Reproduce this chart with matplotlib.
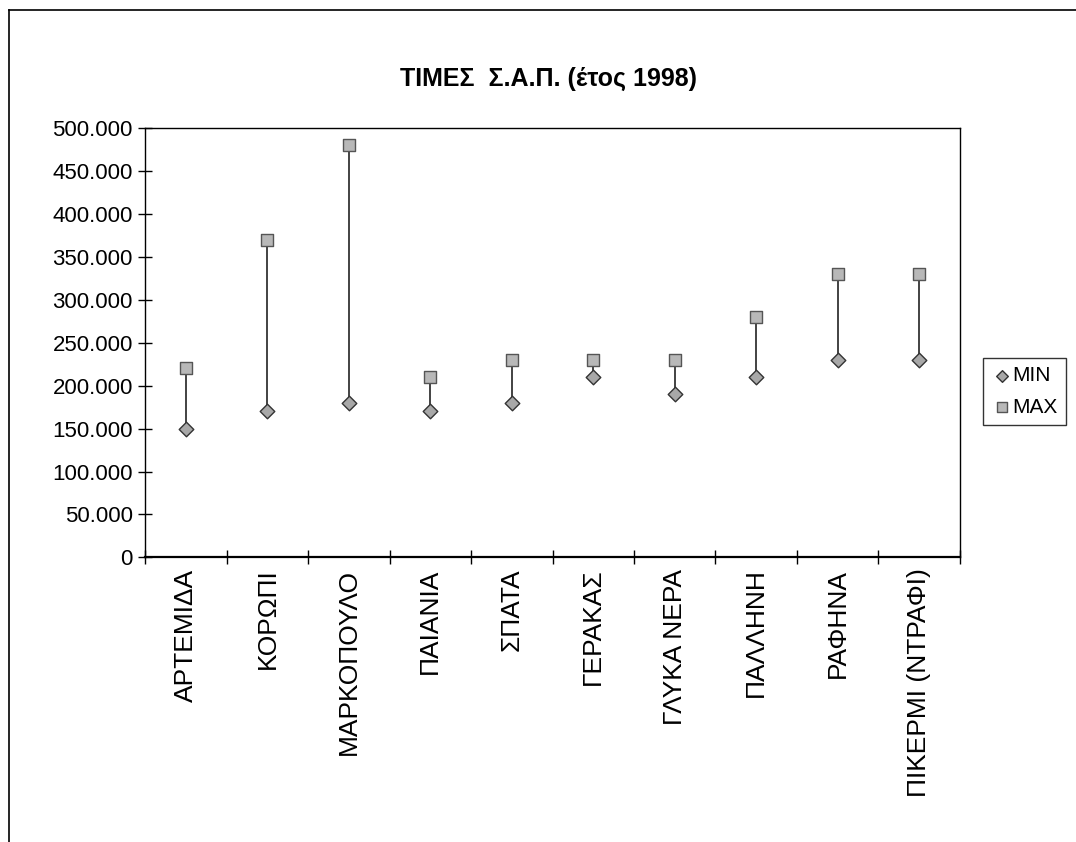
import matplotlib.pyplot as plt
from matplotlib.ticker import FuncFormatter, FixedLocator
from matplotlib.lines import Line2D

plt.rcParams['font.family'] = ['Liberation Sans', 'DejaVu Sans']

# data
places = ['ΑΡΤΕΜΙΔΑ', 'ΚΟΡΩΠΙ', 'ΜΑΡΚΟΠΟΥΛΟ', 'ΠΑΙΑΝΙΑ', 'ΣΠΑΤΑ',
          'ΓΕΡΑΚΑΣ', 'ΓΛΥΚΑ ΝΕΡΑ', 'ΠΑΛΛΗΝΗ', 'ΡΑΦΗΝΑ', 'ΠΙΚΕΡΜΙ (ΝΤΡΑΦΙ)']
min_vals = [150000, 170000, 180000, 170000, 180000, 210000, 190000, 210000, 230000, 230000]
max_vals = [220000, 370000, 480000, 210000, 230000, 230000, 230000, 280000, 330000, 330000]

fig = plt.figure(figsize=(10.76, 8.42), dpi=100)
ax = fig.add_axes([0.135, 0.338, 0.757, 0.510])

x = list(range(len(places)))
ax.vlines(x, min_vals, max_vals, color='#222222', linewidth=1.2, zorder=2)
ax.scatter(x, min_vals, marker='D', s=55, color='#a8a8a8', edgecolor='#333333',
           linewidth=1.0, zorder=3, label='MIN')
ax.scatter(x, max_vals, marker='s', s=75, color='#b8b8b8', edgecolor='#555555',
           linewidth=1.0, zorder=3, label='MAX')

ax.set_xlim(-0.5, len(places) - 0.5)
ax.set_ylim(0, 500000)
ax.set_yticks(range(0, 500001, 50000))
ax.yaxis.set_major_formatter(FuncFormatter(lambda v, p: f'{int(v):,}'.replace(',', '.')))
ax.tick_params(axis='y', direction='inout', length=10, width=1, labelsize=16, pad=4)

ax.set_xticks(x)
ax.set_xticklabels(places, rotation=90, fontsize=19)
ax.tick_params(axis='x', which='major', length=0, pad=8)
ax.xaxis.set_minor_locator(FixedLocator([i - 0.5 for i in range(len(places) + 1)]))
ax.tick_params(axis='x', which='minor', direction='inout', length=10, width=1)

for s in ax.spines.values():
    s.set_linewidth(1.0)
ax.spines['bottom'].set_linewidth(1.6)

fig.suptitle('ΤΙΜΕΣ  Σ.Α.Π. (έτος 1998)', x=0.51, y=0.92, fontsize=18,
             fontweight='bold')

leg = fig.legend(loc='center left', bbox_to_anchor=(0.914, 0.535), fontsize=15,
                 frameon=True, fancybox=False, edgecolor='black',
                 handletextpad=0.0, borderpad=0.4, labelspacing=0.6,
                 handlelength=1.0, borderaxespad=0, markerscale=0.8)
leg.get_frame().set_linewidth(1.0)

# outer chart border: top and left edges only
fig.add_artist(Line2D([0.008, 1.0], [0.988, 0.988], transform=fig.transFigure,
                      color='black', linewidth=1.2))
fig.add_artist(Line2D([0.008, 0.008], [0.0, 0.988], transform=fig.transFigure,
                      color='black', linewidth=1.2))

fig.savefig('out.png', dpi=100)
